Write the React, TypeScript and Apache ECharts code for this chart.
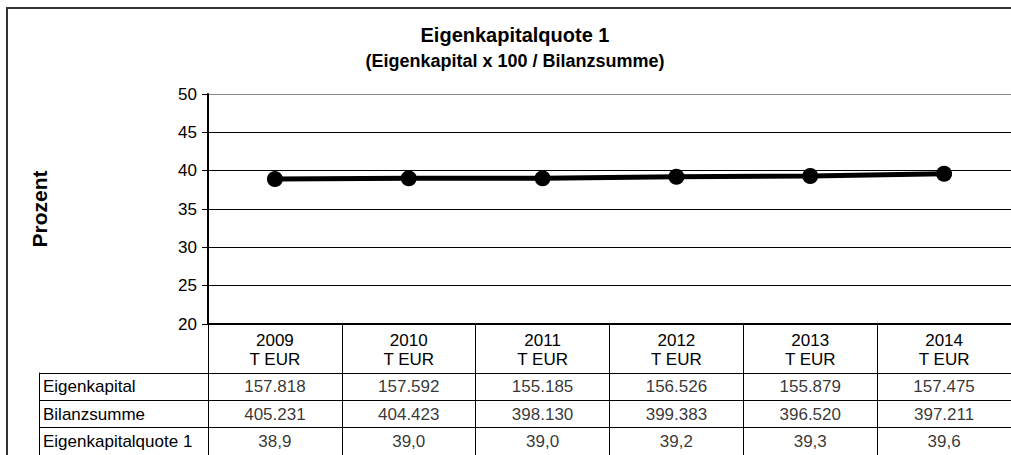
import React, { useEffect, useRef } from "react";
import * as echarts from "echarts";

const years = ["2009", "2010", "2011", "2012", "2013", "2014"];
const unitLabel = "T EUR";
const eigenkapital = [157818, 157592, 155185, 156526, 155879, 157475];
const bilanzsumme = [405231, 404423, 398130, 399383, 396520, 397211];
const quote = [38.9, 39.0, 39.0, 39.2, 39.3, 39.6];
const rowLabels = ["Eigenkapital", "Bilanzsumme", "Eigenkapitalquote 1"];
const yMin = 20;
const yMax = 50;
const yStep = 5;
const titleText = "Eigenkapitalquote 1";
const subtitleText = "(Eigenkapital x 100 / Bilanzsumme)";
const yAxisName = "Prozent";

const FONT = "'Liberation Sans', Arial, sans-serif";

const fmtInt = (n: number) => String(n).replace(/\B(?=(\d{3})+(?!\d))/g, ".");
const fmtDec = (n: number) => n.toFixed(1).replace(".", ",");

export default function App() {
  const ref = useRef<HTMLDivElement>(null);
  useEffect(() => {
    if (!ref.current) return;
    const chart = echarts.init(ref.current, undefined, { renderer: "svg" });
    const rows = [eigenkapital.map(fmtInt), bilanzsumme.map(fmtInt), quote.map(fmtDec)];
    const cellData: any[] = [];
    rows.forEach((r, ri) => r.forEach((t, ci) => cellData.push([ci, ri, t])));

    chart.setOption({
      animation: false,
      backgroundColor: "#fff",
      textStyle: { fontFamily: FONT, color: "#000" },
      graphic: [
        {
          type: "rect",
          shape: { x: 7, y: 8, width: 1030, height: 480 },
          style: { fill: "none", stroke: "#333", lineWidth: 2 },
          silent: true,
        },
        {
          type: "text",
          x: 515,
          y: 35,
          style: {
            text: titleText,
            fontFamily: FONT,
            fontWeight: "bold",
            fontSize: 20,
            fill: "#000",
            align: "center",
            verticalAlign: "middle",
          },
        },
        {
          type: "text",
          x: 515,
          y: 61,
          style: {
            text: subtitleText,
            fontFamily: FONT,
            fontWeight: "bold",
            fontSize: 18,
            fill: "#000",
            align: "center",
            verticalAlign: "middle",
          },
        },
      ],
      grid: [
        { left: 208, top: 94, width: 815, height: 230 },
        { left: 208, top: 373, width: 815, height: 86 },
      ],
      xAxis: [
        {
          type: "category",
          gridIndex: 0,
          data: years,
          boundaryGap: true,
          axisLine: { show: true, lineStyle: { color: "#000", width: 2 } },
          axisTick: { show: true, length: 49, interval: 0, lineStyle: { color: "#000", width: 1 } },
          axisLabel: {
            interval: 0,
            margin: 7,
            fontSize: 17,
            lineHeight: 19,
            color: "#000",
            fontFamily: FONT,
            formatter: (v: string) => `${v}\n${unitLabel}`,
          },
          splitLine: { show: false },
        },
        {
          type: "category",
          gridIndex: 1,
          data: years,
          boundaryGap: true,
          position: "top",
          axisLine: { show: true, lineStyle: { color: "#000", width: 1 } },
          axisTick: { show: false },
          axisLabel: { show: false },
          splitLine: { show: true, interval: 0, lineStyle: { color: "#000", width: 1 } },
        },
      ],
      yAxis: [
        {
          type: "value",
          gridIndex: 0,
          min: yMin,
          max: yMax,
          interval: yStep,
          name: yAxisName,
          nameLocation: "middle",
          nameRotate: 90,
          nameGap: 158,
          nameTextStyle: { fontSize: 21, fontWeight: "bold", color: "#000", fontFamily: FONT },
          axisLine: { show: true, lineStyle: { color: "#000", width: 2 } },
          axisTick: { show: true, length: 6, lineStyle: { color: "#000", width: 1 } },
          axisLabel: { fontSize: 17, color: "#000", margin: 11, fontFamily: FONT },
          splitLine: {
            show: true,
            lineStyle: { color: ["#000", "#000", "#000", "#000", "#000", "#000", "#888"], width: 1 },
          },
        },
        {
          type: "category",
          gridIndex: 1,
          data: rowLabels,
          inverse: true,
          boundaryGap: true,
          axisLine: { show: true, lineStyle: { color: "#000", width: 1 } },
          axisTick: { show: true, length: 169, interval: 0, lineStyle: { color: "#000", width: 1 } },
          axisLabel: {
            interval: 0,
            align: "left",
            margin: 165,
            fontSize: 17,
            color: "#000",
            fontFamily: FONT,
          },
          splitLine: { show: true, interval: 0, lineStyle: { color: "#000", width: 1 } },
        },
        {
          type: "category",
          gridIndex: 1,
          data: rowLabels,
          inverse: true,
          position: "left",
          offset: 169,
          axisLine: { show: true, lineStyle: { color: "#000", width: 1 } },
          axisTick: { show: false },
          axisLabel: { show: false },
          splitLine: { show: false },
        },
      ],
      series: [
        {
          type: "line",
          xAxisIndex: 0,
          yAxisIndex: 0,
          data: quote,
          symbol: "circle",
          symbolSize: 16,
          lineStyle: { color: "#000", width: 5 },
          itemStyle: { color: "#000" },
          silent: true,
        },
        {
          type: "scatter",
          xAxisIndex: 1,
          yAxisIndex: 1,
          data: cellData,
          symbolSize: 1,
          itemStyle: { color: "rgba(0,0,0,0)" },
          label: {
            show: true,
            position: "inside",
            fontSize: 17,
            color: "#000",
            fontFamily: FONT,
            formatter: (p: any) => p.value[2],
          },
          silent: true,
        },
      ],
    });
    return () => chart.dispose();
  }, []);
  return (
    <div
      ref={ref}
      style={{ position: "absolute", left: 0, top: 0, width: 1011, height: 455 }}
    />
  );
}
